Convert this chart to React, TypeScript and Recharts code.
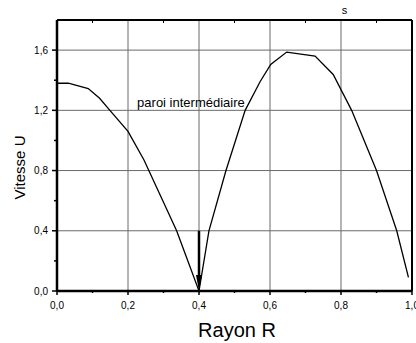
import React from 'react';
import { LineChart, Line, XAxis, YAxis, CartesianGrid, ReferenceDot, ReferenceLine } from 'recharts';

// Velocity profile across the radius (two cells separated by an inner wall)
const rayon = [0, 0.032, 0.088, 0.12, 0.149, 0.2, 0.245, 0.3, 0.337, 0.4, 0.428, 0.476, 0.53, 0.572, 0.602, 0.647, 0.727, 0.778, 0.83, 0.9, 0.957, 0.99];
const vitesse = [1.38, 1.38, 1.345, 1.28, 1.2, 1.06, 0.87, 0.59, 0.4, 0, 0.4, 0.8, 1.2, 1.39, 1.505, 1.587, 1.56, 1.438, 1.2, 0.8, 0.4, 0.09];

const xTicks = [0, 0.1, 0.2, 0.3, 0.4, 0.5, 0.6, 0.7, 0.8, 0.9, 1.0];
const xTopTicks = [0.1, 0.3, 0.5, 0.7, 0.9];
const yTicks = [0, 0.2, 0.4, 0.6, 0.8, 1.0, 1.2, 1.4, 1.6];
const xGrid = [0.2, 0.4, 0.6, 0.8];
const yGrid = [0.4, 0.8, 1.2, 1.6];
const xMax = 1.0;
const yMax = 1.8;

// arrow pointing at the wall
const paroiR = 0.4;
const arrowTop = 0.4;

const data = rayon.map((r, i) => ({ r, u: vitesse[i] }));

const FONT = 'Arial, "Liberation Sans", sans-serif';
const fmt = (v: number) => v.toFixed(1).replace('.', ',');

const BottomTick = ({ x, y, payload }: any) => {
  const major = Math.round(payload.value * 10) % 2 === 0;
  return (
    <g>
      <line x1={x} x2={x} y1={y} y2={y + (major ? 4 : 2)} stroke="#000" strokeWidth={1.5} />
      {major && (
        <text x={x} y={y + 17.5} textAnchor="middle" fontSize={10} fontFamily={FONT} fill="#000">
          {fmt(payload.value)}
        </text>
      )}
    </g>
  );
};

const LeftTick = ({ x, y, payload }: any) => {
  const major = Math.round(payload.value * 10) % 4 === 0;
  return (
    <g>
      <line x1={x} x2={x - (major ? 5 : 3)} y1={y} y2={y} stroke="#000" strokeWidth={1.5} />
      {major && (
        <text x={x - 9} y={y} dy="0.35em" textAnchor="end" fontSize={10} fontFamily={FONT} fill="#000">
          {fmt(payload.value)}
        </text>
      )}
    </g>
  );
};

const YTitle = ({ viewBox }: any) => {
  const cx = viewBox.x + 12;
  const cy = viewBox.y + viewBox.height / 2 + 12;
  return (
    <text x={cx} y={cy} transform={`rotate(-90, ${cx}, ${cy})`} textAnchor="middle" dominantBaseline="central"
      fontSize={15} fontFamily={FONT} fill="#000">
      Vitesse U
    </text>
  );
};

const XTitle = ({ viewBox }: any) => (
  <text x={viewBox.x + viewBox.width / 2 + 2.5} y={viewBox.y + 46} textAnchor="middle" fontSize={20} fontFamily={FONT} fill="#000">
    Rayon R
  </text>
);

const Arrow = ({ x1, y1, x2, y2 }: any) => (
  <g>
    <line x1={x1} x2={x2} y1={y1} y2={y2 - 12} stroke="#000" strokeWidth={2.5} />
    <polygon points={`${x2 - 3},${y2 - 16} ${x2 + 3},${y2 - 16} ${x2},${y2}`} fill="#000" />
  </g>
);

const App = () => {
  return (
    <div style={{ position: 'absolute', left: 0, top: 0, width: 416, height: 343, background: '#fff' }}>
      <LineChart width={416} height={343} data={data} margin={{ top: 20, right: 4, left: 7, bottom: 22 }}>
        <CartesianGrid stroke="#6a6a6a" strokeWidth={1} horizontalValues={yGrid} verticalValues={xGrid} />
        <XAxis
          dataKey="r"
          type="number"
          domain={[0, xMax]}
          ticks={xTicks}
          height={30}
          tickSize={0}
          tickMargin={0}
          tickLine={false}
          tick={<BottomTick />}
          axisLine={{ stroke: '#000', strokeWidth: 2.5 }}
          interval={0}
          label={<XTitle />}
        />
        <YAxis
          type="number"
          domain={[0, yMax]}
          ticks={yTicks}
          width={50}
          tickSize={0}
          tickMargin={0}
          tickLine={false}
          tick={<LeftTick />}
          axisLine={{ stroke: '#000', strokeWidth: 2.5 }}
          interval={0}
          label={<YTitle />}
        />
        {/* frame: top and right borders, small inner ticks along the top */}
        <ReferenceLine y={yMax} stroke="#000" strokeWidth={2} ifOverflow="visible" />
        <ReferenceLine x={xMax} stroke="#000" strokeWidth={2} ifOverflow="visible" />
        {xTopTicks.map((t) => (
          <ReferenceLine
            key={t}
            segment={[{ x: t, y: yMax }, { x: t, y: yMax - 0.02 }]}
            stroke="#000"
            strokeWidth={1}
            ifOverflow="visible"
          />
        ))}
        <Line
          type="linear"
          dataKey="u"
          stroke="#000"
          strokeWidth={1.3}
          dot={false}
          isAnimationActive={false}
        />
        <ReferenceLine
          segment={[{ x: paroiR, y: arrowTop }, { x: paroiR, y: 0 }]}
          shape={<Arrow />}
          ifOverflow="visible"
        />
        <ReferenceDot
          x={0.22}
          y={1.25}
          r={1}
          fill="none"
          stroke="none"
          label={{ value: 'paroi intermédiaire', position: 'right', offset: 1, fontSize: 13, fontFamily: FONT, fill: '#000' }}
        />
        <ReferenceDot
          x={0.81}
          y={yMax}
          r={1}
          fill="none"
          stroke="none"
          ifOverflow="visible"
          label={{ value: 's', position: 'top', offset: 5, fontSize: 11, fontFamily: FONT, fill: '#000' }}
        />
      </LineChart>
    </div>
  );
};

export default App;
